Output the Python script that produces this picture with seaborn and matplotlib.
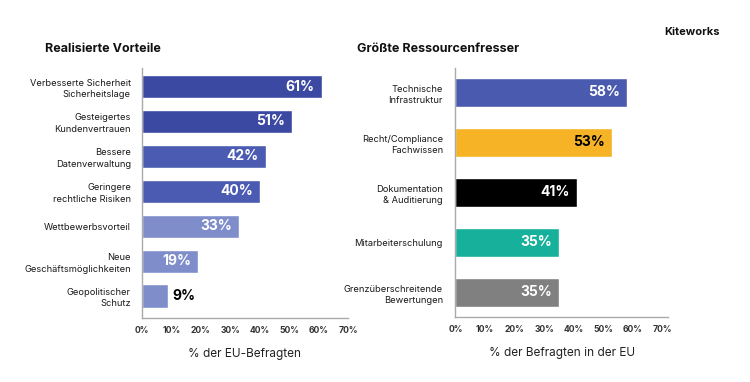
import matplotlib
matplotlib.use("Agg")
import matplotlib.pyplot as plt
import seaborn as sns
import pandas as pd

sns.set_theme(style="white")
plt.rcParams['font.family'] = ['Inter', 'DejaVu Sans']

# ---- data ----
left_categories = ["Verbesserte Sicherheit\nSicherheitslage", "Gesteigertes\nKundenvertrauen",
                   "Bessere\nDatenverwaltung", "Geringere\nrechtliche Risiken",
                   "Wettbewerbsvorteil", "Neue\nGeschäftsmöglichkeiten", "Geopolitischer\nSchutz"]
left_values = [61, 51, 42, 40, 33, 19, 9]
left_colors = ["#3b49a2", "#3b49a2", "#4a5bb1", "#4a5bb1", "#7f8ecb", "#7f8ecb", "#7f8ecb"]
left_label_colors = ["white"] * 6 + ["black"]

right_categories = ["Technische\nInfrastruktur", "Recht/Compliance\nFachwissen",
                    "Dokumentation\n& Auditierung", "Mitarbeiterschulung",
                    "Grenzüberschreitende\nBewertungen"]
right_values = [58, 53, 41, 35, 35]
right_colors = ["#4a5aae", "#f5b325", "#000000", "#16b09b", "#808080"]
right_label_colors = ["white", "black", "white", "white", "white"]

tick_labels = ["0%", "10%", "20%", "30%", "40%", "50%", "60%", "70%"]
tick_values = [0, 10, 20, 30, 40, 50, 60, 70]

left_title = "Realisierte Vorteile"
right_title = "Größte Ressourcenfresser"
left_xlabel = "% der EU-Befragten"
right_xlabel = "% der Befragten in der EU"

fig = plt.figure(figsize=(7.5, 3.82), dpi=100)
ax1 = fig.add_axes([142/750, 1-318/382, 206/750, 250/382])
ax2 = fig.add_axes([455.5/750, 1-317/382, 212.5/750, 249/382])

def draw(ax, cats, vals, colors, lcolors, width, xmax, xlabel, ylabpad, outside_threshold):
    df = pd.DataFrame({"cat": cats, "val": vals})
    sns.barplot(data=df, x="val", y="cat", hue="cat", palette=colors, legend=False,
                width=width, ax=ax, orient="h", saturation=1)
    ax.set_xlim(0, xmax)
    ax.set_xticks(tick_values)
    ax.set_xticklabels(tick_labels, fontsize=6.2, fontweight="bold", color="#333333")
    ax.tick_params(axis="x", length=0, pad=6)
    ax.tick_params(axis="y", length=0, pad=ylabpad)
    for lab in ax.get_yticklabels():
        lab.set_fontsize(6.7)
        lab.set_color("#1a1a1a")
        lab.set_horizontalalignment("right")
        lab.set_linespacing(1.35)
    ax.set_ylabel("")
    ax.set_xlabel(xlabel, fontsize=8.5, color="#222222", labelpad=9)
    for s in ["top", "right"]:
        ax.spines[s].set_visible(False)
    for s in ["left", "bottom"]:
        ax.spines[s].set_color("#aaaaaa")
        ax.spines[s].set_linewidth(1.0)
    for i, (v, c) in enumerate(zip(vals, lcolors)):
        if v < outside_threshold:
            ax.text(v + 1.2, i, f"{v}%", va="center", ha="left", fontsize=10,
                    fontweight="bold", color=c)
        else:
            ax.text(v - 2.3, i, f"{v}%", va="center", ha="right", fontsize=10,
                    fontweight="bold", color=c)

draw(ax1, left_categories, left_values, left_colors, left_label_colors, 0.66, 70,
     left_xlabel, 8, 15)
ax1.set_ylim(len(left_values) - 1 + 0.63, -0.53)
draw(ax2, right_categories, right_values, right_colors, right_label_colors, 0.58, 72,
     right_xlabel, 9, 15)
ax2.set_ylim(len(right_values) - 1 + 0.49, -0.49)

fig.text(45/750, 1-49/382, left_title, fontsize=9, fontweight="bold", va="center", ha="left",
         color="#111111")
fig.text(357/750, 1-49/382, right_title, fontsize=9, fontweight="bold", va="center", ha="left",
         color="#111111")
fig.text(692/750, 1-32/382, "Kiteworks", fontsize=8, fontweight="bold", va="center", ha="center",
         color="#111111")

fig.savefig("out.png", dpi=100)
